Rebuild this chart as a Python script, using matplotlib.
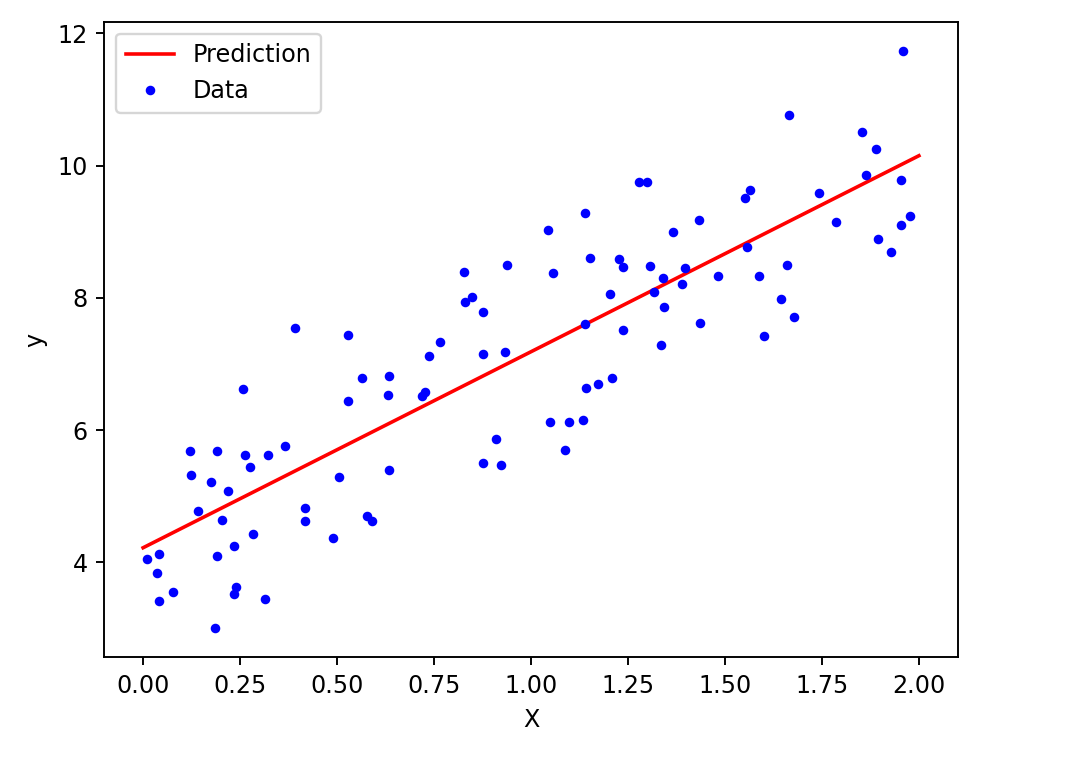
import matplotlib
matplotlib.use("Agg")
import matplotlib.pyplot as plt
import numpy as np

# Data points
x_data = [0.009, 0.040, 0.035, 0.040, 0.076, 0.120, 0.124, 0.142, 0.174, 0.191,
          0.191, 0.186, 0.204, 0.218, 0.234, 0.240, 0.234, 0.258, 0.262, 0.276,
          0.284, 0.315, 0.321, 0.366, 0.392, 0.418, 0.418, 0.489, 0.506, 0.529,
          0.529, 0.565, 0.577, 0.591, 0.631, 0.635, 0.635, 0.720, 0.728, 0.738,
          0.765, 0.826, 0.831, 0.849, 0.875, 0.875, 0.875, 0.911, 0.923, 0.934,
          0.938, 1.045, 1.048, 1.058, 1.088, 1.098, 1.135, 1.139, 1.139, 1.143,
          1.151, 1.173, 1.204, 1.210, 1.227, 1.236, 1.236, 1.278, 1.299, 1.307,
          1.316, 1.334, 1.339, 1.342, 1.365, 1.388, 1.396, 1.432, 1.436, 1.481,
          1.552, 1.565, 1.556, 1.587, 1.601, 1.645, 1.659, 1.666, 1.677, 1.742,
          1.787, 1.853, 1.863, 1.890, 1.894, 1.929, 1.955, 1.955, 1.960, 1.978]
y_data = [4.045, 4.121, 3.834, 3.421, 3.552, 5.679, 5.317, 4.774, 5.211, 5.679,
          4.095, 3.000, 4.643, 5.080, 4.250, 3.632, 3.526, 6.614, 5.629, 5.448,
          4.431, 3.451, 5.629, 5.759, 7.545, 4.824, 4.618, 4.362, 5.291, 7.439,
          6.433, 6.795, 4.698, 4.618, 6.534, 6.821, 5.397, 6.513, 6.573, 7.127,
          7.338, 8.398, 7.931, 8.017, 7.780, 7.152, 5.502, 5.860, 5.472, 7.183,
          8.504, 9.023, 6.116, 8.374, 5.704, 6.121, 6.151, 9.284, 7.599, 6.633,
          8.609, 6.694, 8.062, 6.795, 8.585, 8.474, 7.519, 9.751, 9.751, 8.480,
          8.092, 7.288, 8.299, 7.855, 9.002, 8.217, 8.454, 9.178, 7.620, 8.323,
          9.514, 9.626, 8.766, 8.323, 7.418, 7.986, 8.504, 10.762, 7.704, 9.590,
          9.152, 10.505, 9.852, 10.244, 8.891, 8.691, 9.777, 9.103, 11.740, 9.234]

# Prediction line
x_new = [0.0, 2.0]
y_predict = [4.22, 10.15]

fig = plt.figure(figsize=(1080 / 172, 759 / 172), dpi=172)
ax = fig.add_axes([104.3 / 1080, 1 - 657.3 / 759,
                   (957.7 - 104.3) / 1080, (657.3 - 21.7) / 759])
ax.plot(x_new, y_predict, "r-", label="Prediction")
ax.plot(x_data, y_data, "b.", label="Data")
ax.set_xlabel("X")
ax.set_ylabel("y")
ax.legend(loc="upper left")
fig.savefig("out.png", dpi=172)
